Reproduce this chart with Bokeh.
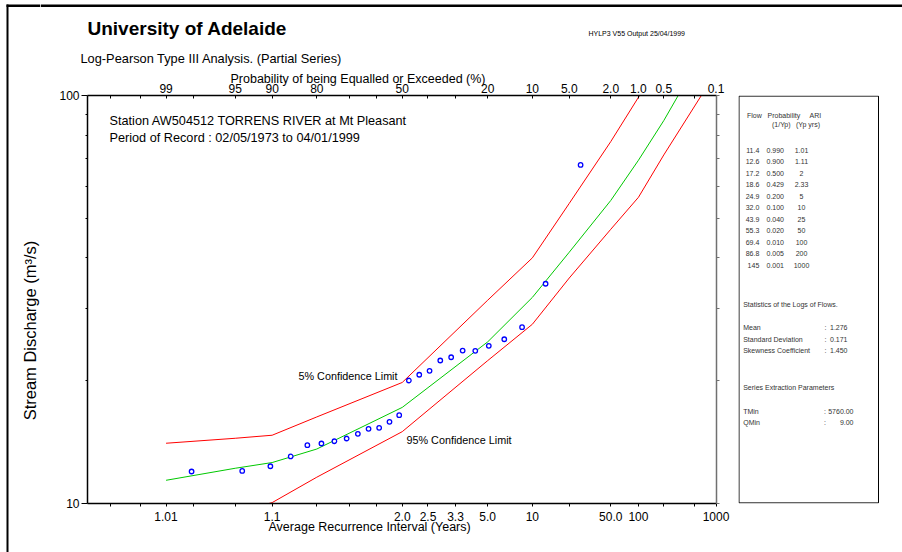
import math
from statistics import NormalDist

from bokeh.plotting import figure
from bokeh.layouts import column, row
from bokeh.models import (Range1d, LinearAxis, LogAxis, FixedTicker, LinearScale,
                          CustomJSTickFormatter, Label, Title)
from bokeh.embed import file_html
from bokeh.resources import INLINE

# ---------------- data ----------------
# probability (%) positions of tick marks on both horizontal axes
TICK_PROB = [99.8, 99.5, 99, 98, 95, 90, 80, 70, 60, 50, 40, 30, 20, 10, 5, 2, 1, 0.5, 0.2, 0.1]
TOP_PROB = [99, 95, 90, 80, 50, 20, 10, 5, 2, 1, 0.5, 0.1]
TOP_LABELS = ["99", "95", "90", "80", "50", "20", "10", "5.0", "2.0", "1.0", "0.5", "0.1"]
ARI_PROB = [99, 90, 50, 40, 30, 20, 10, 2, 1, 0.1]
ARI_LABELS = ["1.01", "1.1", "2.0", "2.5", "3.3", "5.0", "10", "50.0", "100", "1000"]
Y_MAJOR = [10, 100]
Y_MINOR = [20, 30, 40, 50, 60, 70, 80, 90]

# curves (exceedance probability %, flow m3/s)
CURVE_PROB = [99, 95, 90, 80, 50, 20, 10, 5, 2, 1, 0.5, 0.1]
FITTED_FLOW = [11.4, 12.2, 12.6, 13.6, 17.2, 24.9, 32.0, 41.3, 55.3, 69.4, 86.8, 145]
UPPER_5_FLOW = [14.05, 14.45, 14.7, 16.3, 19.8, 31.5, 40.0, 54.4, 77.1, 99.0, 122, 200]
LOWER_95_FLOW = [8.6, 9.5, 10.05, 11.6, 15.0, 22.4, 27.5, 35.7, 47.0, 56.3, 71.5, 114]

# observed partial-series floods
OBS_PROB = [98.1, 94.25, 90.3, 86.4, 82.5, 78.7, 74.8, 70.8, 66.9, 63.0, 59.0, 55.0, 51.2,
            47.4, 43.35, 39.4, 35.4, 31.5, 27.6, 23.6, 19.7, 15.75, 11.9, 7.9, 3.95]
OBS_FLOW = [11.98, 12.02, 12.34, 13.04, 13.90, 14.03, 14.21, 14.43, 14.82, 15.24, 15.33, 15.86,
            16.46, 20.02, 20.68, 21.14, 22.41, 22.83, 23.71, 23.67, 24.35, 25.27, 27.05, 34.56, 67.6]

TABLE_FLOW = ["11.4", "12.6", "17.2", "18.6", "24.9", "32.0", "43.9", "55.3", "69.4", "86.8", "145"]
TABLE_PROB = ["0.990", "0.900", "0.500", "0.429", "0.200", "0.100", "0.040", "0.020", "0.010", "0.005", "0.001"]
TABLE_ARI = ["1.01", "1.11", "2", "2.33", "5", "10", "25", "50", "100", "200", "1000"]
STAT_NAMES = ["Mean", "Standard Deviation", "Skewness Coefficient"]
STAT_VALUES = ["1.276", "0.171", "1.450"]
PARAM_NAMES = ["TMin", "QMin"]
PARAM_VALUES = ["5760.00", "9.00"]

# ---------------- helpers ----------------
ND = NormalDist()


def z_of(pct):
    """normal probability scale position for an exceedance probability in %"""
    return ND.inv_cdf(1.0 - pct / 100.0)


FONT = "Liberation Sans"
PAGE_W, PAGE_H = 902, 552
HEAD_H = 66          # header strip height
STRIP_W = 40         # left strip width
PANEL_X = 738        # left edge of right panel figure
FL, FR, FT, FB = 87, 716, 95, 503   # page pixel edges of the plot frame


def canvas(w, h, x0, x1, ytop, ybot):
    """figure with no axes; data units = page pixels over its frame"""
    f = figure(width=w, height=h, x_range=Range1d(x0, x1), y_range=Range1d(ybot, ytop),
               x_axis_location=None, y_axis_location=None, min_border=0,
               toolbar_location=None, output_backend="svg")
    f.grid.visible = False
    f.outline_line_color = None
    f.background_fill_color = "white"
    f.border_fill_color = "white"
    return f


def lab(fig, text, x, y, size, align="left", baseline="middle", bold=False, angle=0.0,
        rng=None, color="black"):
    kw = {}
    if rng:
        kw = dict(x_range_name="px", y_range_name="py")
    fig.add_layout(Label(x=x, y=y, text=text, text_font=FONT, text_font_size=f"{size}px",
                         text_align=align, text_baseline=baseline, text_color=color,
                         angle=angle, text_font_style="bold" if bold else "normal", **kw))


# ---------------- left strip (full page height) ----------------
strip = canvas(STRIP_W, PAGE_H, 0, STRIP_W, 0, PAGE_H)
strip.quad(left=6, right=8, top=4, bottom=PAGE_H, fill_color="black", line_color=None)
strip.quad(left=6, right=STRIP_W, top=4, bottom=6.5, fill_color="black", line_color=None)
lab(strip, "Stream Discharge (m³/s)", 29, 330, 16.5, align="center", angle=math.pi / 2)

# ---------------- header ----------------
head = canvas(PAGE_W - STRIP_W, HEAD_H, STRIP_W, PAGE_W, 0, HEAD_H)
head.quad(left=STRIP_W, right=PAGE_W, top=4, bottom=6.5, fill_color="black", line_color=None)
lab(head, "University of Adelaide", 87, 28, 19, bold=True)
lab(head, "HYLP3 V55  Output 25/04/1999", 588, 33, 7)
lab(head, "Log-Pearson Type III Analysis. (Partial Series)", 80, 58, 12.8)

# ---------------- main plot ----------------
MW = PANEL_X - STRIP_W
MH = PAGE_H - HEAD_H
p = figure(width=MW, height=MH,
           x_range=Range1d(-3.1, 3.095), y_range=Range1d(10, 100),
           y_axis_type="log", output_backend="svg", toolbar_location=None,
           min_border_left=FL - STRIP_W, min_border_right=PANEL_X - FR,
           min_border_top=FT - HEAD_H, min_border_bottom=PAGE_H - FB)
p.grid.visible = False
p.outline_line_color = None
p.background_fill_color = "white"
p.border_fill_color = "white"

p.extra_x_ranges = {"px": Range1d(FL, FR)}
p.extra_y_ranges = {"py": Range1d(FB, FT)}
p.extra_x_scales = {"px": LinearScale()}
p.extra_y_scales = {"py": LinearScale()}

JS = """
for (let i = 0; i < zs.length; i++) {
  if (Math.abs(zs[i] - tick) < 1e-6) return labs[i];
}
return "";
"""

ticks_z = [z_of(v) for v in TICK_PROB]

xb = p.xaxis[0]
xb.ticker = FixedTicker(ticks=ticks_z, minor_ticks=[])
xb.formatter = CustomJSTickFormatter(args=dict(zs=[z_of(v) for v in ARI_PROB], labs=ARI_LABELS), code=JS)
xb.major_tick_out = 3
xb.major_tick_in = 0
xb.axis_line_width = 1.5
xb.axis_line_color = "black"
xb.major_tick_line_color = "black"
xb.major_label_text_font = FONT
xb.major_label_text_font_size = "12px"
xb.major_label_text_color = "black"
xb.major_label_standoff = 5

xt = LinearAxis(ticker=FixedTicker(ticks=ticks_z, minor_ticks=[]),
                formatter=CustomJSTickFormatter(args=dict(zs=[z_of(v) for v in TOP_PROB], labs=TOP_LABELS), code=JS),
                major_tick_in=3, major_tick_out=0, axis_line_width=1.5, axis_line_color="black",
                major_label_text_font=FONT, major_label_text_font_size="12px",
                major_label_text_color="black", major_label_standoff=3)
p.add_layout(xt, "above")

yl = p.yaxis[0]
yl.ticker = FixedTicker(ticks=Y_MAJOR, minor_ticks=Y_MINOR)
yl.formatter = CustomJSTickFormatter(code="return Math.round(tick).toString();")
yl.major_tick_out = 6
yl.major_tick_in = 0
yl.minor_tick_out = 2
yl.minor_tick_in = 0
yl.axis_line_width = 1.5
yl.axis_line_color = "black"
yl.major_label_text_font = FONT
yl.major_label_text_font_size = "12px"
yl.major_label_text_color = "black"
yl.major_label_standoff = 2

yr = LogAxis(ticker=FixedTicker(ticks=Y_MAJOR, minor_ticks=Y_MINOR),
             formatter=CustomJSTickFormatter(code='return "";'),
             major_tick_out=3, major_tick_in=0, minor_tick_out=3, minor_tick_in=0,
             axis_line_color="#707070", major_tick_line_color="#707070",
             minor_tick_line_color="#707070", axis_line_width=1.5, major_label_standoff=0)
p.add_layout(yr, "right")

# axis titles placed as plot titles so they can sit off-centre like the original
p.title.text = "Probability of being Equalled or Exceeded (%)"
p.title.align = "left"
p.title.offset = 230 - FL
p.title.standoff = -10
p.title.vertical_align = "bottom"
p.title.text_font = FONT
p.title.text_font_size = "12.5px"
p.title.text_font_style = "normal"
p.title.text_color = "black"

p.add_layout(Title(text="Average Recurrence Interval (Years)", align="left", offset=268 - FL,
                   standoff=-8, vertical_align="top", text_font=FONT, text_font_size="12.5px",
                   text_font_style="normal", text_color="black"), "below")

cz = [z_of(v) for v in CURVE_PROB]
p.line(cz, UPPER_5_FLOW, line_color="#ff0000", line_width=1)
p.line(cz, LOWER_95_FLOW, line_color="#ff0000", line_width=1)
p.line(cz, FITTED_FLOW, line_color="#00c800", line_width=1)
p.scatter([z_of(v) for v in OBS_PROB], OBS_FLOW, marker="circle", size=4.5,
          line_color="#0000ff", line_width=1.3, fill_color="white")

lab(p, "Station AW504512  TORRENS RIVER at Mt Pleasant", 109, 120, 12.7, rng=True)
lab(p, "Period of Record : 02/05/1973 to 04/01/1999", 109, 137, 12.7, rng=True)
lab(p, "5% Confidence Limit", 298, 375, 10.8, rng=True)
lab(p, "95% Confidence Limit", 406, 439, 10.8, rng=True)

# ---------------- right information panel ----------------
# its frame is aligned by the row layout with the main plot frame (page y 95..503)
pan = canvas(PAGE_W - PANEL_X, MH, PANEL_X, PAGE_W, FT, FB)
pan.quad(left=738.5, right=878, top=95.6, bottom=502.4, fill_color=None, line_color="black", line_width=1)
TS = 7
TC = "#333333"
lab(pan, "Flow", 746.5, 115, TS, color=TC)
lab(pan, "Probability", 767, 115, TS, color=TC)
lab(pan, "ARI", 809, 115, TS, color=TC)
lab(pan, "(1/Yp)", 771.5, 123.5, TS, color=TC)
lab(pan, "(Yp yrs)", 795.5, 123.5, TS, color=TC)
for i in range(len(TABLE_FLOW)):
    yy = 149.5 + i * 11.5
    lab(pan, TABLE_FLOW[i], 758.8, yy, TS, align="right", color=TC)
    lab(pan, TABLE_PROB[i], 766, yy, TS, color=TC)
    lab(pan, TABLE_ARI[i], 801, yy, TS, align="center", color=TC)

lab(pan, "Statistics of the Logs of Flows.", 742.7, 304, TS, color=TC)
for i in range(len(STAT_NAMES)):
    yy = 327.3 + i * 11.5
    lab(pan, STAT_NAMES[i], 742.7, yy, TS, color=TC)
    lab(pan, ":", 824, yy, TS, color=TC)
    lab(pan, STAT_VALUES[i], 847, yy, TS, align="right", color=TC)
lab(pan, "Series Extraction Parameters", 742.7, 387.3, TS, color=TC)
for i in range(len(PARAM_NAMES)):
    yy = 410.7 + i * 11.5
    lab(pan, PARAM_NAMES[i], 742.7, yy, TS, color=TC)
    lab(pan, ":", 823.5, yy, TS, color=TC)
    lab(pan, PARAM_VALUES[i], 853, yy, TS, align="right", color=TC)

layout = row(strip, column(head, row(p, pan, spacing=0), spacing=0), spacing=0)
open("out.html", "w").write(file_html(layout, INLINE))
